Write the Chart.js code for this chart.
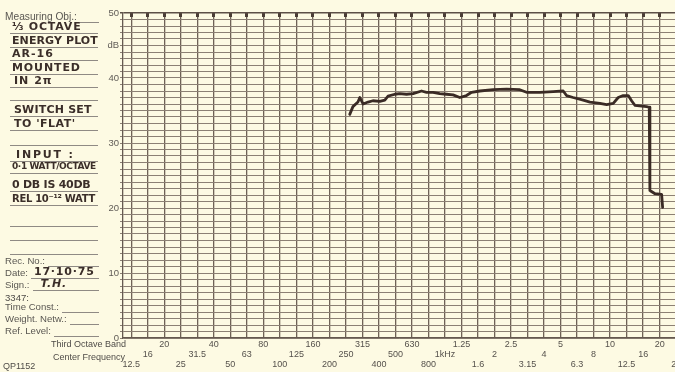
<!DOCTYPE html>
<html>
<head>
  <title>Third Octave Energy Plot</title>
  <script src="https://cdn.jsdelivr.net/npm/chart.js@4.4.0/dist/chart.umd.min.js"></script>
  <style>
    body { margin: 0; background: #fdfae3; }
    #wrap { position: relative; width: 675px; height: 372px; background: #fdfae3; overflow: hidden; }
    #myChart { position: absolute; left: 0; top: 0; }
    .pr, .hw { position: absolute; left: 5px; width: 94px; display: flex; align-items: flex-end; pointer-events: none; }
    .pr { font: 9.6px "Liberation Sans", Arial, sans-serif; color: #5a5752; height: 12px; line-height: 12px; white-space: nowrap; }
    .pr .fill { flex: 1; border-bottom: 1px solid #8f8a84; margin-left: 3px; height: 12px; font: 600 11px "DejaVu Sans", sans-serif; color: #3b2e29; line-height: 12px; padding-left: 3px; letter-spacing: 0.8px; }
    .hw { left: 10px; width: 88px; height: 13px; border-bottom: 1px solid #8f8a84; font: 600 11px "DejaVu Sans", sans-serif; color: #3b2e29; line-height: 13px; letter-spacing: 0.5px; padding-left: 2px; box-sizing: border-box; white-space: nowrap; }
    .lbl { position: absolute; font: 9px "Liberation Sans", Arial, sans-serif; color: #4f4c48; white-space: nowrap; }
  </style>
</head>
<body>
  <div id="wrap">
    <canvas id="myChart" width="675" height="372"></canvas>

    <div class="pr" style="top:11px;font-size:10.2px">Measuring Obj.:<span class="fill"></span></div>
    <div class="hw" style="top:21px;letter-spacing:0.8px">⅓ OCTAVE</div>
    <div class="hw" style="top:35px;letter-spacing:0.1px">ENERGY PLOT</div>
    <div class="hw" style="top:48px;letter-spacing:1px">AR-16</div>
    <div class="hw" style="top:62px;letter-spacing:0.9px">MOUNTED</div>
    <div class="hw" style="top:75px;padding-left:4px;letter-spacing:1px">IN 2π</div>
    <div class="hw" style="top:88px"></div>
    <div class="hw" style="top:104px;padding-left:4px;letter-spacing:0.2px">SWITCH SET</div>
    <div class="hw" style="top:118px;padding-left:4px">TO 'FLAT'</div>
    <div class="hw" style="top:133px"></div>
    <div class="hw" style="top:149px;padding-left:6px;letter-spacing:1.8px">INPUT :</div>
    <div class="hw" style="top:161px;font-size:9px;letter-spacing:-0.4px">0·1 WATT/OCTAVE</div>
    <div class="hw" style="top:179px;letter-spacing:-0.25px">0 DB IS 40DB</div>
    <div class="hw" style="top:193px;font-size:10px;letter-spacing:-0.3px">REL 10⁻¹² WATT</div>
    <div class="hw" style="top:214px"></div>
    <div class="hw" style="top:228px"></div>
    <div class="hw" style="top:242px"></div>

    <div class="pr" style="top:255px">Rec. No.:<span class="fill"></span></div>
    <div class="pr" style="top:267px">Date:<span class="fill">17·10·75</span></div>
    <div class="pr" style="top:279px">Sign.:<span class="fill" style="font-style:italic;padding-left:8px">T.H.</span></div>
    <div class="lbl" style="left:5px;top:292px;font-size:9.6px">3347:</div>
    <div class="pr" style="top:301px">Time Const.:<span class="fill"></span></div>
    <div class="pr" style="top:313px">Weight. Netw.:<span class="fill"></span></div>
    <div class="pr" style="top:325px">Ref. Level:<span class="fill"></span></div>
    <div class="lbl" style="left:51px;top:339px">Third Octave Band</div>
    <div class="lbl" style="left:53px;top:352px">Center Frequency</div>
    <div class="lbl" style="left:3px;top:361px">QP1152</div>
  </div>

  <script>
    // third octave band labels as printed on the paper
    var bandLabels = ['12.5', '16', '20', '25', '31.5', '40', '50', '63', '80', '100', '125', '160',
      '200', '250', '315', '400', '500', '630', '800', '1kHz', '1.25', '1.6', '2', '2.5', '3.15',
      '4', '5', '6.3', '8', '10', '12.5', '16', '20', '25'];
    var dbTicks = [0, 10, 20, 30, 40, 50];

    // pen trace: frequency (Hz) and level (dB)
    var traceHz = [265, 277, 297, 305, 319, 342, 366, 403, 432, 452, 497, 532, 585, 641, 721, 773,
      847, 929, 1021, 1119, 1230, 1349, 1449, 1626, 1959, 2360, 2838, 3119, 3758, 4519, 5200, 5445,
      5970, 6871, 7551, 8670, 9528, 10450, 11194, 11995, 12882, 13490, 14125, 16634, 17258, 17418,
      18707, 20512, 20797];
    var traceDb = [34.4, 35.6, 36.3, 37.0, 36.0, 36.3, 36.5, 36.4, 36.6, 37.2, 37.5, 37.6, 37.5, 37.6,
      38.0, 37.8, 37.8, 37.6, 37.5, 37.4, 37.0, 37.3, 37.8, 38.0, 38.2, 38.3, 38.2, 37.8, 37.8, 37.9,
      38.0, 37.3, 37.0, 36.6, 36.3, 36.1, 35.9, 36.1, 37.0, 37.3, 37.3, 36.5, 35.8, 35.6, 35.5, 22.7,
      22.2, 22.1, 20.1];

    // band centre positions (preferred base-10 series), used to place the grid
    var bandPos = bandLabels.map((l, i) => 1000 * Math.pow(10, (i - 19) / 10));

    var ink = '#3a2b25';
    var vLine = '#6f6256';
    var hLine = '#8c8074';

    function bandTicks(scale) {
      scale.ticks = bandPos.map(v => ({ value: v }));
    }

    var ctx = document.getElementById('myChart').getContext('2d');

    // push the top tick marks down so they straddle the 50 dB line like the printed ones
    var topMarks = {
      id: 'topMarks',
      afterLayout(chart) {
        var s = chart.scales.xTop;
        s.top += 4;
        s.bottom += 4;
      }
    };

    var myChart = new Chart(ctx, {
      type: 'line',
      data: {
        datasets: [{
          label: 'level',
          data: traceHz.map((hz, i) => ({ x: hz, y: traceDb[i] })),
          borderColor: ink,
          borderWidth: 2.8,
          borderJoinStyle: 'round',
          borderCapStyle: 'round',
          pointRadius: 0,
          tension: 0,
          fill: false
        }]
      },
      options: {
        responsive: false,
        animation: false,
        events: [],
        layout: { padding: { top: 8, left: 0, right: 0, bottom: 0 } },
        plugins: { legend: { display: false }, tooltip: { enabled: false } },
        scales: {
          x: {
            type: 'logarithmic',
            position: 'bottom',
            min: 11.22,
            max: 24717,
            afterBuildTicks: bandTicks,
            afterFit(scale) {
              scale.paddingLeft = 0;
              scale.paddingRight = 0;
              scale.height = 34;
            },
            grid: { color: vLine, lineWidth: 1.3, drawTicks: false },
            border: { display: true, color: '#65594f', width: 1.3 },
            ticks: {
              autoSkip: false,
              maxRotation: 0,
              minRotation: 0,
              padding: 2,
              color: '#55514c',
              font: { family: '"Liberation Sans", Arial, sans-serif', size: 9, lineHeight: '9.9px' },
              callback: function (value, index) {
                var l = bandLabels[index];
                var row = (index + 1) % 3; // 20 Hz octave row on top
                if (row === 0) return [l];
                if (row === 2) return ['', l];
                return ['', '', l];
              }
            }
          },
          xTop: {
            type: 'logarithmic',
            position: 'top',
            min: 11.22,
            max: 24717,
            afterBuildTicks: bandTicks,
            afterFit(scale) {
              scale.paddingLeft = 0;
              scale.paddingRight = 0;
              scale.height = 5;
            },
            grid: { drawOnChartArea: false, tickLength: 5, tickWidth: 3, tickColor: '#4a3d35' },
            border: { display: false },
            ticks: { display: false }
          },
          y: {
            min: 0,
            max: 50,
            afterFit(scale) {
              scale.width = 123;
              scale.paddingTop = 0;
              scale.paddingBottom = 0;
            },
            grid: {
              color: c => c.tick && c.tick.value === 50 ? '#5c4f46' : hLine,
              lineWidth: c => c.tick && c.tick.value === 50 ? 1.6 : 1,
              tickLength: 3
            },
            border: { display: true, color: '#65594f', width: 1.3 },
            ticks: {
              stepSize: 1,
              autoSkip: false,
              padding: 1,
              color: '#5f5b56',
              font: { family: '"Liberation Sans", Arial, sans-serif', size: 9.5 },
              callback: function (value) {
                if (value === 45) return 'dB';
                return dbTicks.indexOf(value) >= 0 ? String(value) : '';
              }
            }
          }
        }
      },
      plugins: [topMarks]
    });
  </script>
</body>
</html>
